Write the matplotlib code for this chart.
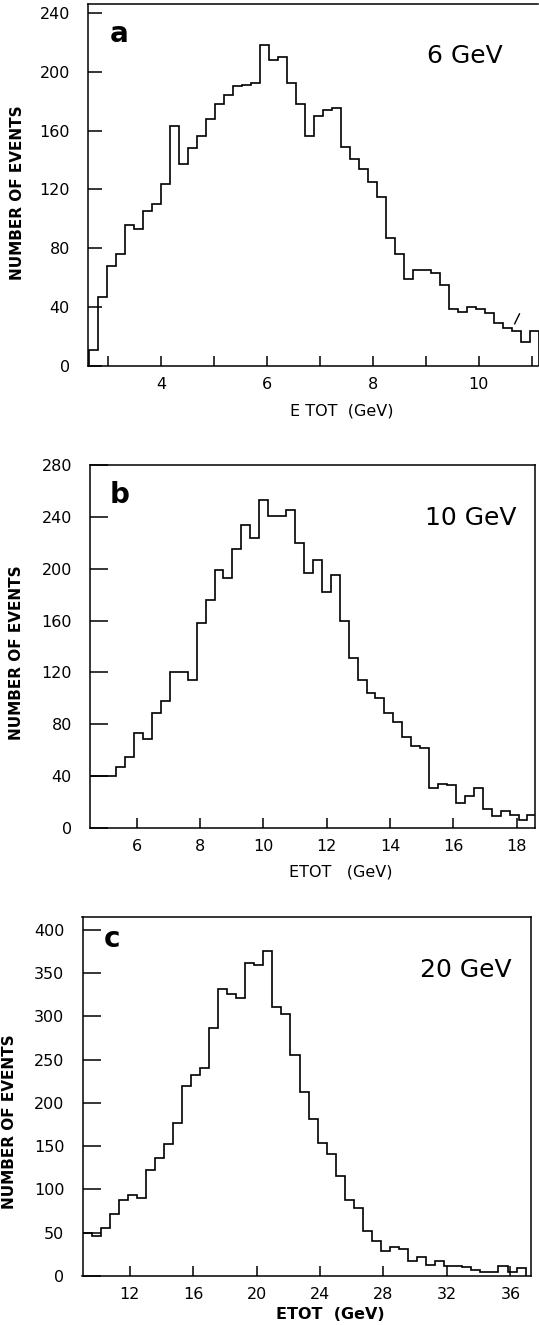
import numpy as np
import matplotlib.pyplot as plt

# --- DADOS ---
# painel a: 6 GeV
inicio_a, largura_a = 2.635, 0.17
contagens_a = [11, 47, 68, 76, 96, 93, 105, 110, 124, 163,
               137, 148, 156, 168, 178, 184, 190, 191, 192, 218,
               208, 210, 192, 178, 156, 170, 174, 175, 149, 141,
               134, 125, 115, 87, 76, 59, 65, 65, 63, 55,
               39, 37, 40, 39, 36, 29, 26, 24, 16, 24]
risco_a_x = [10.68, 10.77]   # pequeno traço "/" no painel a
risco_a_y = [28.7, 35.4]

# painel b: 10 GeV
inicio_b, largura_b = 4.50, 0.2825
contagens_b = [40, 40, 40, 47, 55, 73, 69, 89, 98, 120,
               120, 114, 158, 176, 199, 193, 215, 234, 224, 253,
               241, 241, 245, 220, 197, 207, 182, 195, 160, 131,
               114, 104, 100, 89, 82, 70, 63, 62, 31, 34,
               33, 19, 25, 31, 15, 9, 13, 10, 6, 10]

# painel c: 20 GeV
inicio_c, largura_c = 9.03, 0.57
contagens_c = [50, 46, 56, 72, 88, 94, 90, 122, 136, 152,
               177, 220, 232, 240, 286, 332, 326, 321, 361, 359,
               375, 311, 303, 255, 212, 181, 154, 141, 115, 88,
               79, 52, 40, 29, 34, 31, 17, 22, 13, 17,
               12, 12, 10, 7, 5, 5, 12, 5, 9]

# --- FIGURA ---
W, H = 539, 1325
fig = plt.figure(figsize=(W / 100, H / 100), dpi=100)
plt.rcParams['font.family'] = ['DejaVu Sans']


def ret(x0, y_topo, x1, y_base):
    # converte caixa em pixels para fração da figura
    return [x0 / W, 1 - y_base / H, (x1 - x0) / W, (y_base - y_topo) / H]


paineis = [
    dict(caixa=ret(88, 4, 538.5, 366), cont=contagens_a, ini=inicio_a, larg=largura_a,
         xlim=(2.62, 11.13), ylim=(0, 246), yticks=range(0, 241, 40),
         xmaj=[4, 6, 8, 10], xmin=[3, 5, 7, 9, 11], ylen=10,
         letra='a', letra_pos=(0.049, 0.895), gev='6 GeV', gev_pos=(0.752, 0.837),
         xlabel='E TOT  (GeV)', xlabel_pos=(0.564, -0.123), xlabel_peso='normal',
         ylabel_px=(17.5, 193), direita=False),
    dict(caixa=ret(90, 465, 535, 828), cont=contagens_b, ini=inicio_b, larg=largura_b,
         xlim=(4.52, 18.58), ylim=(0, 280), yticks=range(0, 281, 40),
         xmaj=[6, 8, 10, 12, 14, 16, 18], xmin=[], ylen=12.6,
         letra='b', letra_pos=(0.045, 0.895), gev='10 GeV', gev_pos=(0.753, 0.835),
         xlabel='ETOT   (GeV)', xlabel_pos=(0.563, -0.12), xlabel_peso='normal',
         ylabel_px=(17, 653), direita=True),
    dict(caixa=ret(82.5, 916.7, 531, 1276), cont=contagens_c, ini=inicio_c, larg=largura_c,
         xlim=(inicio_c, 37.3), ylim=(0, 415), yticks=range(0, 401, 50),
         xmaj=[12, 16, 20, 24, 28, 32, 36], xmin=[], ylen=12.6,
         letra='c', letra_pos=(0.048, 0.916), gev='20 GeV', gev_pos=(0.753, 0.832),
         xlabel='ETOT  (GeV)', xlabel_pos=(0.552, -0.107), xlabel_peso='bold',
         ylabel_px=(10, 1122), direita=True),
]

for p in paineis:
    ax = fig.add_axes(p['caixa'])
    bordas = p['ini'] + p['larg'] * np.arange(len(p['cont']) + 1)
    ax.stairs(p['cont'], bordas, baseline=0, color='black', linewidth=1.2)

    ax.set_xlim(*p['xlim'])
    ax.set_ylim(*p['ylim'])
    ax.set_yticks(list(p['yticks']))
    ax.set_xticks(p['xmaj'])
    ax.set_xticks(p['xmin'], minor=True)

    ax.tick_params(axis='y', direction='in', length=p['ylen'], width=1.1, pad=13, labelsize=11.5)
    ax.tick_params(axis='x', which='both', direction='in', length=7.5, width=1.1, pad=8, labelsize=11.5)

    for lado in ['left', 'bottom', 'top', 'right']:
        ax.spines[lado].set_linewidth(1.1)
    ax.spines['right'].set_visible(p['direita'])

    ax.text(*p['letra_pos'], p['letra'], transform=ax.transAxes, fontsize=20,
            fontweight='bold', ha='left', va='baseline')
    ax.text(*p['gev_pos'], p['gev'], transform=ax.transAxes, fontsize=18,
            ha='left', va='baseline')
    ax.text(*p['xlabel_pos'], p['xlabel'], transform=ax.transAxes, fontsize=11.5,
            fontweight=p['xlabel_peso'], ha='center', va='center')
    fig.text(p['ylabel_px'][0] / W, 1 - p['ylabel_px'][1] / H, 'NUMBER OF EVENTS',
             rotation=90, fontsize=11, fontweight='bold', ha='center', va='center')

    if p['letra'] == 'a':
        ax.plot(risco_a_x, risco_a_y, color='black', linewidth=1.0)

fig.savefig('out.png', dpi=100)
